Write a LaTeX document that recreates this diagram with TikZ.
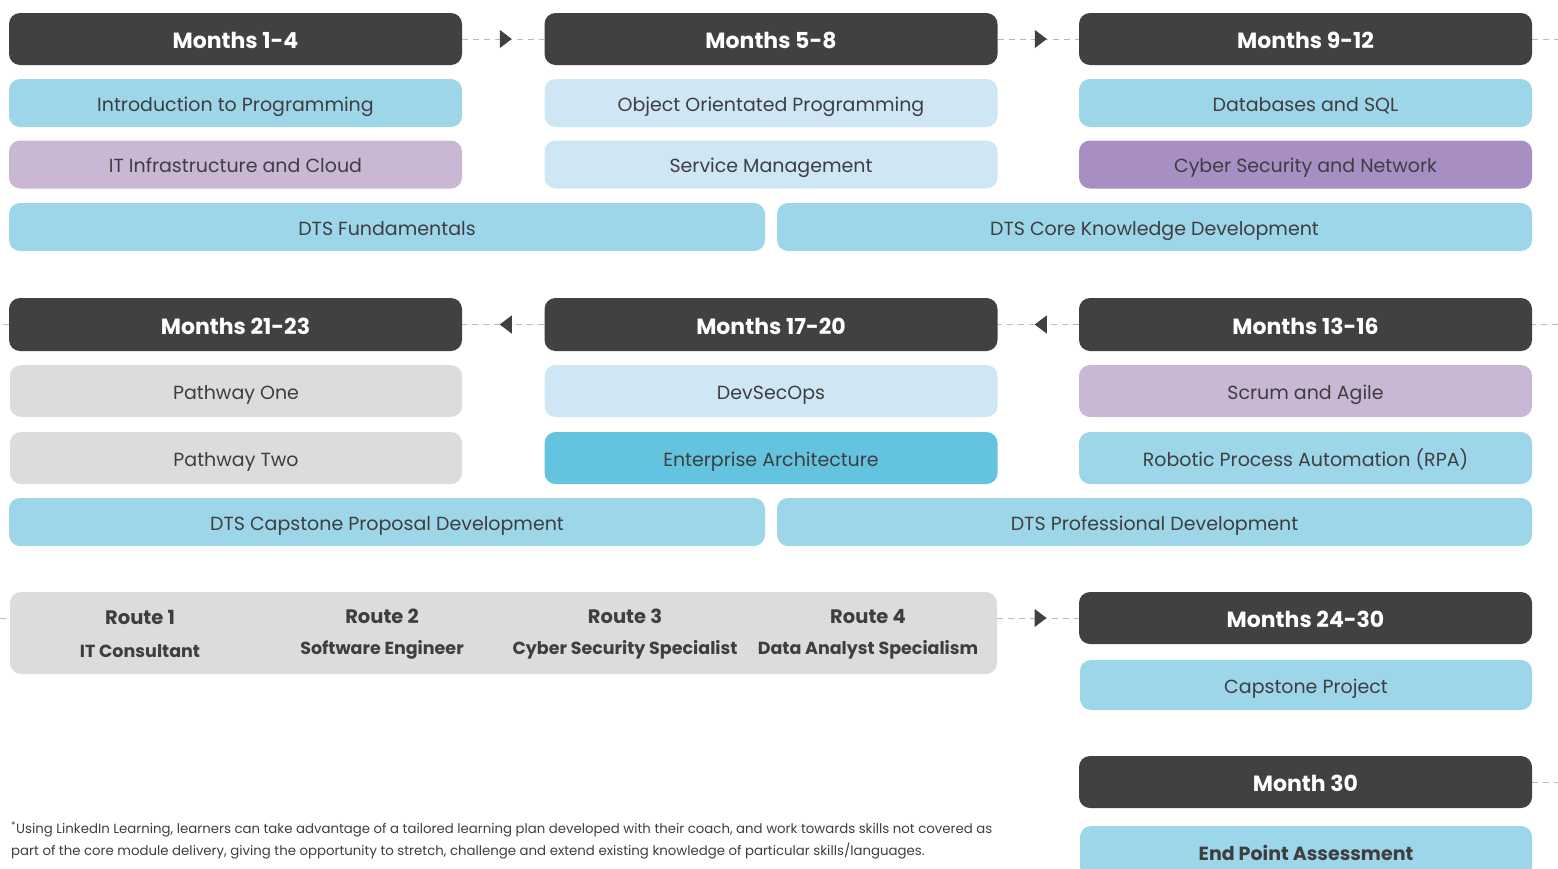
\documentclass[tikz,border=0pt]{standalone}
\usepackage{fontspec}
\setmainfont{Poppins}
\usepackage{tikz}
\usetikzlibrary{arrows.meta,positioning,decorations.markings}

\definecolor{hdrgrey}{HTML}{414143}
\definecolor{txtgrey}{HTML}{3E3E40}
\definecolor{skyblue}{HTML}{9DD6E9}
\definecolor{paleblue}{HTML}{CFE7F4}
\definecolor{lilac}{HTML}{C9B7D4}
\definecolor{violet}{HTML}{A78EC3}
\definecolor{boxgrey}{HTML}{DCDCDE}
\definecolor{midblue}{HTML}{64C4E0}
\definecolor{dashgrey}{HTML}{B8B8B8}

\tikzset{
	hdr/.style={fill=hdrgrey, rounded corners=11pt, minimum width=453pt, minimum height=52pt,
		text=white, font=\fontsize{22}{26}\selectfont\bfseries, inner sep=0pt,
		text height=19pt, text depth=0pt},
	mod/.style={rounded corners=11pt, minimum width=453pt, minimum height=48pt,
		text=txtgrey, font=\fontsize{19}{24}\selectfont, inner sep=0pt,
		text height=16pt, text depth=0pt},
	bar/.style={mod, minimum width=756pt},
	route/.style={text=txtgrey, align=center, font=\fontsize{19.5}{34}\selectfont\bfseries},
	tail/.style={draw=dashgrey, dash pattern=on 6pt off 5pt, line width=1pt},
	flow/.style={tail,
		postaction={decorate, decoration={markings,
			mark=at position 0.5 with {\arrow[xshift=8.5pt, hdrgrey, solid]{Triangle[length=12pt,width=18pt]}}}}},
	backflow/.style={tail,
		postaction={decorate, decoration={markings,
			mark=at position 0.5 with {\arrow[xshift=3.5pt, hdrgrey, solid]{Triangle[length=12pt,width=18pt]}}}}},
}

\begin{document}
\begin{tikzpicture}[x=1pt, y=-1pt]
	\useasboundingbox (0,0) rectangle (1558,868);

	% months 1-12
	\node[hdr] (h14) at (235.5,39) {Months 1-4};
	\node[hdr] (h58) at (771,39) {Months 5-8};
	\node[hdr] (h912) at (1305.5,39) {Months 9-12};

	\node[mod, fill=skyblue] (intro) at (235.5,103) {Introduction to Programming};
	\node[mod, fill=lilac] (infra) at (235.5,164.5) {IT Infrastructure and Cloud};
	\node[mod, fill=paleblue] (oop) at (771,103) {Object Orientated Programming};
	\node[mod, fill=paleblue] (service) at (771,164.5) {Service Management};
	\node[mod, fill=skyblue] (sql) at (1305.5,103) {Databases and SQL};
	\node[mod, fill=violet] (cyber) at (1305.5,164.5) {Cyber Security and Network};
	\node[bar, fill=skyblue] (fund) at (387,227) {DTS Fundamentals};
	\node[bar, fill=skyblue, minimum width=755pt] (core) at (1154.5,227) {DTS Core Knowledge Development};

	% months 13-23
	\node[hdr, minimum height=53pt] (h1316) at (1305.5,324.5) {Months 13-16};
	\node[hdr, minimum height=53pt] (h1720) at (771,324.5) {Months 17-20};
	\node[hdr, minimum height=53pt] (h2123) at (235.5,324.5) {Months 21-23};

	\node[mod, fill=lilac, minimum height=52pt] (scrum) at (1305.5,391) {Scrum and Agile};
	\node[mod, fill=skyblue, minimum height=52pt] (rpa) at (1305.5,458) {Robotic Process Automation (RPA)};
	\node[mod, fill=paleblue, minimum height=52pt] (devsecops) at (771,391) {DevSecOps};
	\node[mod, fill=midblue, minimum height=52pt] (ea) at (771,458) {Enterprise Architecture};
	\node[mod, fill=boxgrey, minimum height=52pt, minimum width=452pt] (path1) at (236,391) {Pathway One};
	\node[mod, fill=boxgrey, minimum height=52pt, minimum width=452pt] (path2) at (236,458) {Pathway Two};
	\node[bar, fill=skyblue] (capprop) at (387,522) {DTS Capstone Proposal Development};
	\node[bar, fill=skyblue, minimum width=755pt] (prof) at (1154.5,522) {DTS Professional Development};

	% routes and months 24-30
	\node[mod, fill=boxgrey, minimum width=987pt, minimum height=82pt] (routes) at (503.5,633) {};
	\node[route] (r1) at (140,633.5) {Route 1\\[-1pt]{\fontsize{17.5}{20}\selectfont IT Consultant}};
	\node[route] (r2) at (382,634.5) {Route 2\\[-3pt]{\fontsize{17.5}{20}\selectfont Software Engineer}};
	\node[route] (r3) at (625,634.5) {Route 3\\[-3pt]{\fontsize{17.5}{20}\selectfont Cyber Security Specialist}};
	\node[route] (r4) at (868,634.5) {Route 4\\[-3pt]{\fontsize{17.5}{20}\selectfont Data Analyst Specialism}};

	\node[hdr] (h2430) at (1305.5,618) {Months 24-30};
	\node[mod, fill=skyblue, minimum height=50pt, minimum width=452pt] (capstone) at (1306,685) {Capstone Project};
	\node[hdr] (m30) at (1305.5,782) {Month 30};
	\node[mod, fill=skyblue, minimum height=52pt, minimum width=452pt,
		font=\fontsize{19}{24}\selectfont\bfseries] (epa) at (1306,852) {End Point Assessment};

	\node[anchor=north west, align=left, text=txtgrey, font=\fontsize{13.3}{22}\selectfont, inner sep=0pt] (note) at (11,821)
		{\textsuperscript{*}Using LinkedIn Learning, learners can take advantage of a tailored learning plan developed with their coach, and work towards skills not covered as\\
		part of the core module delivery, giving the opportunity to stretch, challenge and extend existing knowledge of particular skills/languages.};

	\coordinate (out1) at (1558,39);
	\coordinate (in2) at (1558,324.5);
	\coordinate (out2) at (0,324.5);
	\coordinate (in3) at (0,618);
	\coordinate (out3) at (1558,782);

	\path
		(h14) edge[flow] (h58)
		(h58) edge[flow] (h912)
		(h1316) edge[backflow] (h1720)
		(h1720) edge[backflow] (h2123)
		(routes.east |- h2430.west) edge[flow] (h2430)
	;
	\path
		(h912) edge[tail] (out1)
		(in2) edge[tail] (h1316)
		(h2123) edge[tail] (out2)
		(in3) edge[tail] (routes.west |- in3)
		(m30) edge[tail] (out3)
	;
\end{tikzpicture}
\end{document}
